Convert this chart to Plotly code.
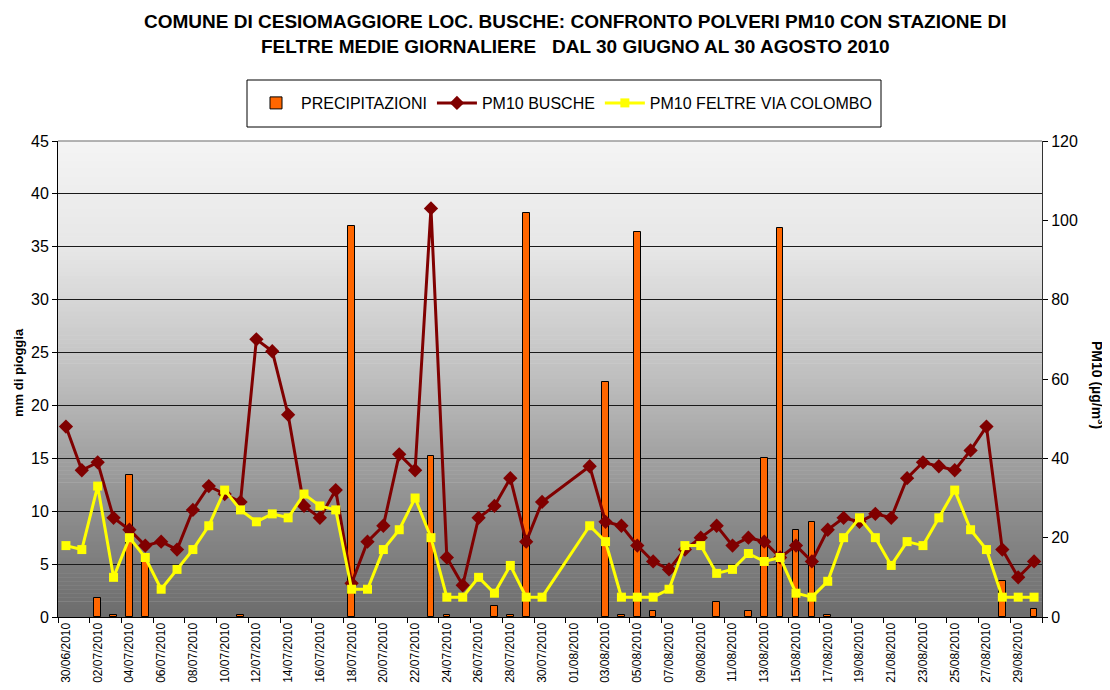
import plotly.graph_objects as go
import pandas as pd

# ---- data ----
dates = [d.strftime("%d/%m/%Y") for d in pd.date_range("2010-06-30", "2010-08-30", freq="D")]

precipitazioni = [
    None, None, 1.8, 0.2, 13.4, 6.0, None, None, None, None,   # 30/06 - 09/07
    None, 0.2, None, None, None, None, None, None, 37.0, None,  # 10/07 - 19/07
    None, None, None, 15.2, 0.2, None, None, 1.0, 0.2, 38.2,    # 20/07 - 29/07
    None, None, None, None, 22.2, 0.2, 36.4, 0.6, None, None,   # 30/07 - 08/08
    None, 1.4, None, 0.6, 15.0, 36.8, 8.2, 9.0, 0.2, None,      # 09/08 - 18/08
    None, None, None, None, None, None, None, None, None, 3.4,  # 19/08 - 28/08
    None, 0.8                                                   # 29/08 - 30/08
]

pm10_busche = [
    48, 37, 39, 25, 22, 18, 19, 17, 27, 33,
    31, 29, 70, 67, 51, 28, 25, 32, 8.5, 19,
    23, 41, 37, 103, 15, 8, 25, 28, 35, 19,
    29, None, None, 38, 24, 23, 18, 14, 12, 17,
    20, 23, 18, 20, 19, 15, 18, 14, 22, 25,
    24, 26, 25, 35, 39, 38, 37, 42, 48, 17,
    10, 14
]

pm10_feltre = [
    18, 17, 33, 10, 20, 15, 7, 12, 17, 23,
    32, 27, 24, 26, 25, 31, 28, 27, 7, 7,
    17, 22, 30, 20, 5, 5, 10, 6, 13, 5,
    5, None, None, 23, 19, 5, 5, 5, 7, 18,
    18, 11, 12, 16, 14, 15, 6, 5, 9, 20,
    25, 20, 13, 19, 18, 25, 32, 22, 17, 5,
    5, 5
]

left_ticks = [0, 5, 10, 15, 20, 25, 30, 35, 40, 45]
right_ticks = [0, 20, 40, 60, 80, 100, 120]

FONT = "Arial, Liberation Sans, sans-serif"

# page is rendered with an 8px body margin; plot area wanted at page x 58..1042, y 141..617
PX0, PX1, PY0, PY1 = 58, 1042, 141, 617
PW, PH = PX1 - PX0, PY1 - PY0
def px(x):
    return (x - PX0) / PW
def py(y):
    return (PY1 - y) / PH

fig = go.Figure()

fig.add_trace(go.Bar(
    x=dates, y=precipitazioni, name="PRECIPITAZIONI",
    marker=dict(color="#FF6600", line=dict(color="#000000", width=1)),
    width=0.42, yaxis="y",
))
fig.add_trace(go.Scatter(
    x=dates, y=pm10_busche, name="PM10 BUSCHE", yaxis="y2",
    mode="lines+markers", connectgaps=True,
    line=dict(color="#800000", width=3),
    marker=dict(symbol="diamond", size=11, color="#800000"),
))
fig.add_trace(go.Scatter(
    x=dates, y=pm10_feltre, name="PM10 FELTRE VIA COLOMBO", yaxis="y2",
    mode="lines+markers", connectgaps=True,
    line=dict(color="#FFFF00", width=3),
    marker=dict(symbol="square", size=9, color="#FFFF00"),
))

# vertical gradient background of the plot area (style only)
stops = [(0.0, 244), (0.23, 230), (0.50, 190), (0.75, 146), (1.0, 108)]
def shade(t):
    for (t0, c0), (t1, c1) in zip(stops[:-1], stops[1:]):
        if t0 <= t <= t1:
            return c0 + (c1 - c0) * (t - t0) / (t1 - t0)
    return stops[-1][1]
n = 120
shapes = []
for k in range(n):
    t = (k + 0.5) / n
    c = int(round(shade(t)))
    shapes.append(dict(
        type="rect", xref="paper", yref="paper", layer="below",
        x0=0, x1=1, y0=max(0, 1 - (k + 1) / n - 0.001), y1=1 - k / n,
        fillcolor=f"rgb({c},{c},{c})", line=dict(width=0),
    ))
# light top border of the plot area
shapes.append(dict(type="line", xref="paper", yref="paper", layer="above",
                   x0=0, x1=1, y0=1, y1=1, line=dict(color="#9a9a9a", width=1.5)))
# legend frame
shapes.append(dict(type="rect", xref="paper", yref="paper", layer="below",
                   x0=px(247), x1=px(881), y0=py(127), y1=py(80),
                   fillcolor="#FFFFFF", line=dict(color="#000000", width=1)))

annotations = [
    dict(text="<b>COMUNE DI CESIOMAGGIORE LOC. BUSCHE: CONFRONTO POLVERI PM10 CON STAZIONE DI</b>",
         xref="paper", yref="paper", x=px(575), y=py(21), xanchor="center", yanchor="middle",
         showarrow=False, font=dict(size=19, color="#000000", family=FONT)),
    dict(text="<b>FELTRE MEDIE GIORNALIERE   DAL 30 GIUGNO AL 30 AGOSTO 2010</b>",
         xref="paper", yref="paper", x=px(575), y=py(46), xanchor="center", yanchor="middle",
         showarrow=False, font=dict(size=19, color="#000000", family=FONT)),
    dict(text="<b>mm di pioggia</b>", xref="paper", yref="paper",
         x=px(18), y=py(373), xanchor="center", yanchor="middle",
         textangle=-90, showarrow=False,
         font=dict(size=13, color="#000000", family=FONT)),
    dict(text="<b>PM10 (µg/m<sup>3</sup>)</b>", xref="paper", yref="paper",
         x=px(1098), y=py(385), xanchor="center", yanchor="middle",
         textangle=90, showarrow=False,
         font=dict(size=14, color="#000000", family=FONT)),
]

fig.update_layout(
    width=1102, height=682,
    margin=dict(l=PX0 - 8, r=1110 - PX1, t=PY0 - 8, b=690 - PY1),
    paper_bgcolor="#FFFFFF", plot_bgcolor="#F2F2F2",
    font=dict(family=FONT, color="#000000"),
    showlegend=True,
    legend=dict(orientation="h", x=px(564), xanchor="center",
                y=py(103), yanchor="middle",
                bgcolor="rgba(0,0,0,0)", borderwidth=0,
                font=dict(size=16, family=FONT, color="#000000"),
                itemwidth=40, traceorder="normal"),
    bargap=0,
    shapes=shapes,
    annotations=annotations,
    xaxis=dict(
        type="category", tickmode="linear", tick0=0, dtick=2,
        tickson="boundaries", ticks="outside", ticklen=5, tickcolor="#000000",
        tickangle=-90, tickfont=dict(size=12, family=FONT, color="#000000"),
        showgrid=False, showline=True, linecolor="#000000", linewidth=1,
        range=[-0.5, 61.5], automargin=False,
    ),
    yaxis=dict(
        range=[0, 45], tickmode="array", tickvals=left_ticks,
        ticks="outside", ticklen=5, tickcolor="#000000",
        tickfont=dict(size=16, family=FONT, color="#000000"),
        showgrid=True, gridcolor="#1a1a1a", gridwidth=1,
        showline=True, linecolor="#000000", linewidth=1,
        zeroline=False, automargin=False,
    ),
    yaxis2=dict(
        range=[0, 120], overlaying="y", side="right",
        tickmode="array", tickvals=right_ticks,
        ticks="outside", ticklen=5, tickcolor="#000000",
        tickfont=dict(size=16, family=FONT, color="#000000"),
        showgrid=False, showline=True, linecolor="#333333", linewidth=1,
        zeroline=False, automargin=False,
    ),
)

fig.write_html("out.html")
